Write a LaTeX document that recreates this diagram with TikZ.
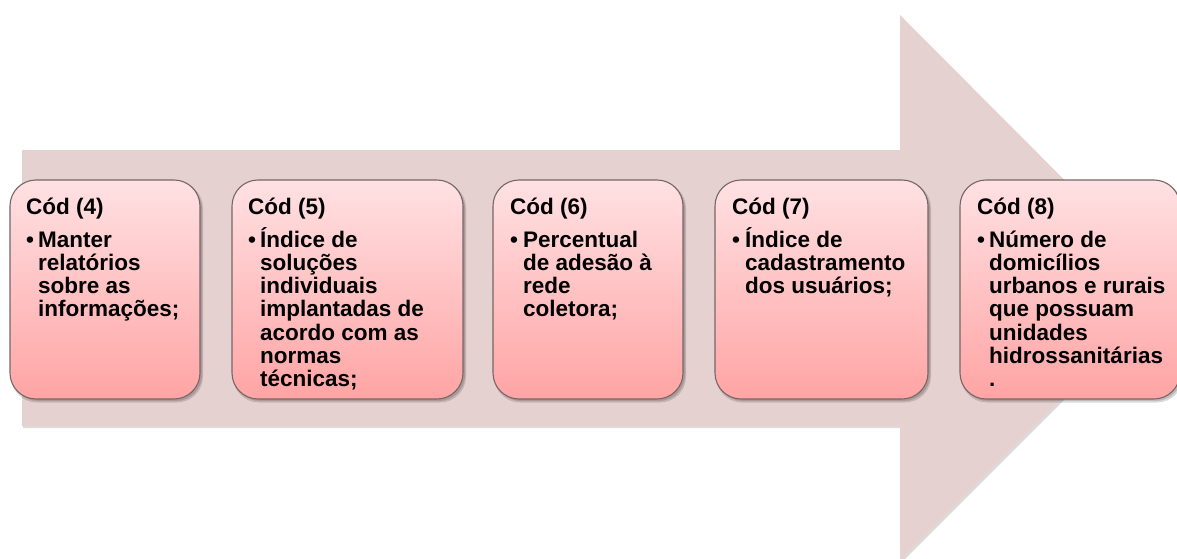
\documentclass[tikz,border=0pt]{standalone}
\usepackage{fontspec}
\setmainfont{Liberation Sans}
\usetikzlibrary{fit}
\definecolor{arrowfill}{HTML}{E6D1D1}
\definecolor{boxtop}{HTML}{FFE1E3}
\definecolor{boxbot}{HTML}{FFA4A4}
\definecolor{boxline}{HTML}{776666}
\begin{document}
\begin{tikzpicture}[x=1pt,y=-1pt,
  arrowstyle/.style={fill=arrowfill, draw=none},
  shadowstyle/.style={fill=black, opacity=0.14, draw=none},
  boxstyle/.style={draw=boxline, line width=1.1pt, rounded corners=26pt,
    top color=boxtop, bottom color=boxbot, inner sep=0pt},
  titlestyle/.style={anchor=base west, inner sep=0pt,
    font=\fontsize{22.5}{23.3}\selectfont\bfseries},
  bulletstyle/.style={anchor=base west, inner sep=0pt,
    font=\fontsize{22.5}{23.3}\selectfont\bfseries},
  bodystyle/.style={anchor=base west, inner sep=0pt,
    font=\fontsize{22.5}{23.3}\selectfont\bfseries}]
\newcommand\linesbox[1]{\vtop{\lineskiplimit=-100pt\baselineskip=23.3pt #1}}
\useasboundingbox (0,0) rectangle (1177,559);
\begin{scope}
\clip (0,0) rectangle (1177,559);
% arrow shadow
\fill[shadowstyle] (23,152) -- (901,152) -- (901,17) -- (1174,290) -- (901,563) -- (901,428) -- (23,428) -- cycle;
% arrow
\path[arrowstyle] (22,150) -- (900,150) -- (900,15) -- (1172,288) -- (900,561) -- (900,426) -- (22,426) -- cycle;
% box shadows
\foreach \l/\r in {10/200, 232/463, 493/683, 715/928, 960/1180}{
  \fill[shadowstyle, rounded corners=26pt] (\l+1,182) rectangle (\r+3,402.5);
  \fill[shadowstyle, rounded corners=26pt] (\l+2,183) rectangle (\r+2,401);
}
% boxes
\node[boxstyle, fit={(10,180) (200,399)}] (b4) {};
\node[boxstyle, fit={(232,180) (463,399)}] (b5) {};
\node[boxstyle, fit={(493,180) (683,399)}] (b6) {};
\node[boxstyle, fit={(715,180) (928,399)}] (b7) {};
\node[boxstyle, fit={(960,180) (1180,399)}] (b8) {};
\end{scope}
% titles
\node[titlestyle] (t4) at (26,214) {Cód (4)};
\node[titlestyle] (t5) at (248,214) {Cód (5)};
\node[titlestyle] (t6) at (510,214) {Cód (6)};
\node[titlestyle] (t7) at (732,214) {Cód (7)};
\node[titlestyle] (t8) at (977,214) {Cód (8)};
% bullets
\node[bulletstyle] (u4) at (26,247) {•};
\node[bulletstyle] (u5) at (248,247) {•};
\node[bulletstyle] (u6) at (510,247) {•};
\node[bulletstyle] (u7) at (732,247) {•};
\node[bulletstyle] (u8) at (977,247) {•};
% bodies
\node[bodystyle] (x4) at (38,247) {\linesbox{\hbox{Manter}\hbox{relatórios}\hbox{sobre as}\hbox{informações;}}};
\node[bodystyle] (x5) at (260,247) {\linesbox{\hbox{Índice de}\hbox{soluções}\hbox{individuais}\hbox{implantadas de}\hbox{acordo com as}\hbox{normas}\hbox{técnicas;}}};
\node[bodystyle] (x6) at (523,247) {\linesbox{\hbox{Percentual}\hbox{de adesão à}\hbox{rede}\hbox{coletora;}}};
\node[bodystyle] (x7) at (745,247) {\linesbox{\hbox{Índice de}\hbox{cadastramento}\hbox{dos usuários;}}};
\node[bodystyle] (x8) at (989,247) {\linesbox{\hbox{Número de}\hbox{domicílios}\hbox{urbanos e rurais}\hbox{que possuam}\hbox{unidades}\hbox{hidrossanitárias}\hbox{.}}};
\end{tikzpicture}
\end{document}
